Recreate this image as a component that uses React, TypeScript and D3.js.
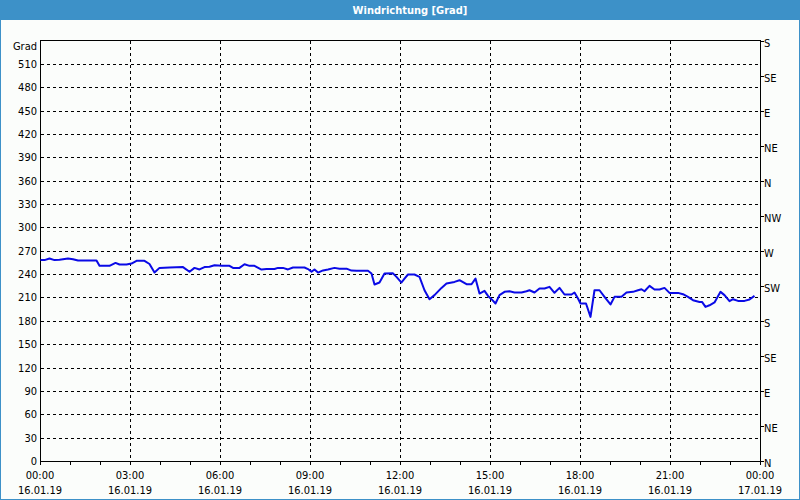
import React from "react";
import * as d3 from "d3";

const title = "Windrichtung [Grad]";
const yUnit = "Grad";
const leftTicks = [0, 30, 60, 90, 120, 150, 180, 210, 240, 270, 300, 330, 360, 390, 420, 450, 480, 510];
const rightTickValues = [0, 45, 90, 135, 180, 225, 270, 315, 360, 405, 450, 495, 540];
const rightTickLabels = ["N", "NE", "E", "SE", "S", "SW", "W", "NW", "N", "NE", "E", "SE", "S"];
const timeTickMinutes = [0, 180, 360, 540, 720, 900, 1080, 1260, 1440];
const timeTickLabels = ["00:00", "03:00", "06:00", "09:00", "12:00", "15:00", "18:00", "21:00", "00:00"];
const dateTickLabels = ["16.01.19", "16.01.19", "16.01.19", "16.01.19", "16.01.19", "16.01.19", "16.01.19", "16.01.19", "17.01.19"];

// minutes since 16.01.19 00:00
const minutes = [
  1, 9, 19, 29, 39, 56, 66, 76, 113, 119, 139, 151, 159, 173, 183, 193, 209, 219, 229, 239,
  259, 286, 299, 309, 319, 329, 339, 349, 364, 379, 386, 399, 409, 419, 429, 443, 453, 469,
  476, 486, 496, 506, 529, 536, 543, 549, 556, 566, 576, 589, 599, 613, 623, 633, 656, 663,
  669, 679, 689, 706, 713, 719, 723, 729, 736, 749, 759, 769, 779, 789, 803, 813, 829, 839,
  853, 863, 871, 879, 889, 896, 903, 911, 919, 929, 939, 949, 963, 973, 979, 989, 999, 1009,
  1019, 1029, 1039, 1049, 1063, 1069, 1076, 1081, 1092, 1101, 1109, 1119, 1129, 1141, 1149,
  1163, 1173, 1186, 1196, 1203, 1209, 1219, 1229, 1239, 1249, 1259, 1276, 1286, 1296, 1306,
  1319, 1324, 1331, 1339, 1349, 1361, 1369, 1379, 1386, 1396, 1409, 1419, 1429,
];
const degrees = [
  258, 258, 260, 258, 258.5, 260, 259, 257.5, 257.5, 250.6, 250.6, 254.4, 252.3, 252.3, 253.6, 257, 257, 253, 242, 248,
  248.5, 249, 243, 248, 246, 249, 249.5, 251.4, 250.6, 250.6, 248, 248, 252.7, 250.6, 250.6, 245.9, 246.5, 246.5,
  248, 248, 246, 248.5, 248.5, 246.5, 243, 246, 242, 244.7, 246, 248, 247, 247, 244.5, 244.3, 244.3, 240.8,
  226.6, 229.2, 240.8, 241, 236.4, 232, 229.2, 234.3, 239.5, 239.5, 236.4, 219.3, 207.8, 213, 222.3, 228, 230, 232.2,
  227, 227, 234.3, 215, 218.5, 212, 207.8, 202.3, 213, 217.2, 218, 216.4, 216.4, 218, 219.3, 216.4, 221.5, 221.5,
  223.6, 216, 222.3, 213.8, 213.8, 216.4, 208.7, 202.3, 202.3, 185.1, 219.3, 219.3, 210.8, 201, 210.8,
  210.8, 216.4, 217.2, 219.3, 220.6, 218, 224.9, 220.2, 220.2, 222.3, 215.9, 215.9, 214.2, 210.8, 206.5,
  204.3, 204.3, 197.9, 200, 203.6, 217.2, 213, 205.2, 207.8, 205.6, 205.6, 207.4, 212,
];

const W = 800;
const H = 500;
const FONT = "'DejaVu Sans Condensed', 'DejaVu Sans', sans-serif";
const BLUE = "#3d91c8";

export default function App() {
  const x = d3.scaleLinear().domain([0, 1440]).range([40, 760]);
  const y = d3.scaleLinear().domain([0, 540]).range([461, 40.5]);
  const pts = minutes.map((m, i) => [m, degrees[i]] as [number, number]);
  const line = d3
    .line<[number, number]>()
    .x((d) => x(d[0]))
    .y((d) => y(d[1]));
  const hourTicks = d3.range(0, 1441, 60);
  const r = (v: number) => Math.round(v) + 0.5;

  return (
    <svg
      width={W}
      height={H}
      style={{ position: "absolute", left: 0, top: 0, fontFamily: FONT }}
    >
      <rect x={0} y={0} width={W} height={H} fill={BLUE} />
      <rect x={1} y={20} width={W - 2} height={H - 21} fill="#fbfdfb" />
      <text x={410} y={14} textAnchor="middle" fill="#fff" fontSize={11} fontWeight="bold">
        {title}
      </text>

      {/* grid */}
      <g shapeRendering="crispEdges" stroke="#000" strokeDasharray="3,3" strokeWidth={1}>
        {leftTicks.filter((v) => v > 0).map((v) => (
          <line key={"h" + v} x1={41} x2={760} y1={r(y(v))} y2={r(y(v))} />
        ))}
        {timeTickMinutes.slice(1, -1).map((m) => (
          <line key={"v" + m} x1={r(x(m))} x2={r(x(m))} y1={41} y2={461} />
        ))}
      </g>

      {/* frame */}
      <g shapeRendering="crispEdges" stroke="#000" strokeWidth={1} fill="none">
        <line x1={40.5} x2={40.5} y1={40} y2={462} />
        <line x1={760.5} x2={760.5} y1={40} y2={462} />
        <line x1={40} x2={761} y1={40.5} y2={40.5} />
        <line x1={40} x2={761} y1={461.5} y2={461.5} />
        {hourTicks.map((m) => (
          <line key={"t" + m} x1={r(x(m))} x2={r(x(m))} y1={461} y2={465} />
        ))}
        {rightTickValues.map((v) => (
          <line key={"rt" + v} x1={760} x2={764} y1={r(y(v))} y2={r(y(v))} />
        ))}
      </g>

      {/* data line */}
      <path d={line(pts) || ""} fill="none" stroke="#0a0ae6" strokeWidth={2} strokeLinejoin="round" />

      {/* left axis labels */}
      <g fontSize={11} fill="#000" textAnchor="end">
        <text x={37} y={50}>{yUnit}</text>
        {leftTicks.map((v) => (
          <text key={"l" + v} x={37} y={y(v) + 4}>
            {v}
          </text>
        ))}
      </g>

      {/* right axis labels */}
      <g fontSize={11} fill="#000" textAnchor="start">
        {rightTickValues.map((v, i) => (
          <text key={"r" + v} x={764} y={y(v) + 6}>
            {rightTickLabels[i]}
          </text>
        ))}
      </g>

      {/* bottom labels */}
      <g fontSize={11} fill="#000" textAnchor="middle">
        {timeTickMinutes.map((m, i) => (
          <g key={"b" + i}>
            <text x={x(m)} y={479}>{timeTickLabels[i]}</text>
            <text x={x(m)} y={494}>{dateTickLabels[i]}</text>
          </g>
        ))}
      </g>
    </svg>
  );
}
